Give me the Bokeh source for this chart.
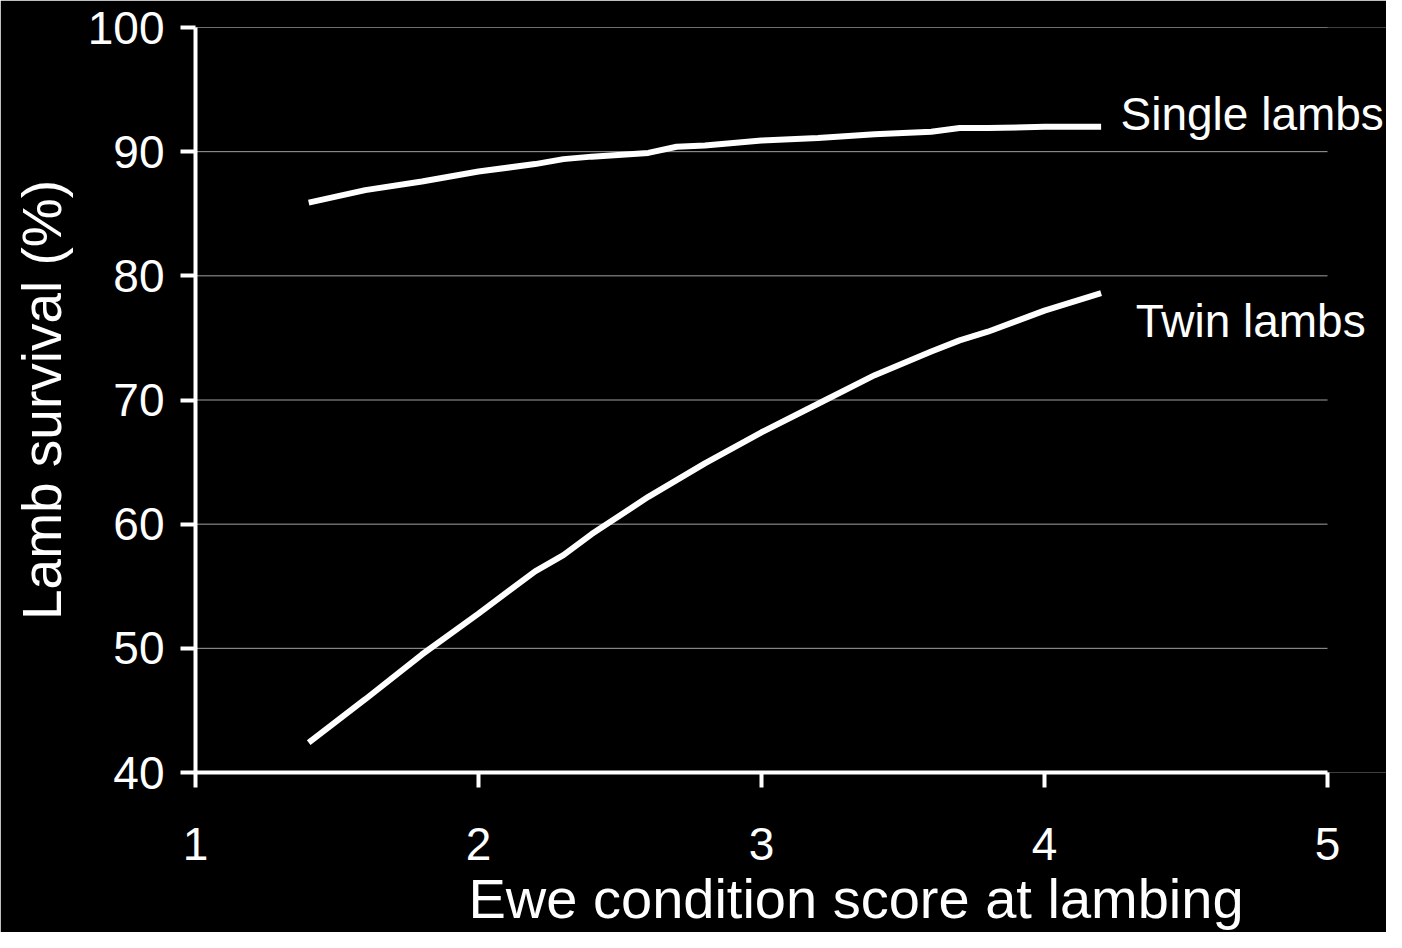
from bokeh.plotting import figure
from bokeh.models import Range1d, Label, FixedTicker, Title
from bokeh.embed import file_html
from bokeh.resources import INLINE

# ---- data ----
single_x = [1.4, 1.6, 1.8, 2.0, 2.2, 2.3, 2.4, 2.6, 2.7, 2.8, 3.0, 3.2, 3.4, 3.6, 3.7, 3.8, 4.0, 4.2]
single_y = [85.9, 86.9, 87.6, 88.4, 89.0, 89.4, 89.6, 89.9, 90.4, 90.5, 90.9, 91.1, 91.4, 91.6, 91.9, 91.9, 92.0, 92.0]
twin_x = [1.4, 1.6, 1.8, 2.0, 2.2, 2.3, 2.4, 2.6, 2.8, 3.0, 3.2, 3.4, 3.6, 3.7, 3.8, 4.0, 4.2]
twin_y = [42.4, 45.9, 49.5, 52.8, 56.2, 57.5, 59.2, 62.2, 64.9, 67.4, 69.7, 72.0, 73.9, 74.8, 75.5, 77.2, 78.6]
x_ticks = [1, 2, 3, 4, 5]
y_ticks = [40, 50, 60, 70, 80, 90, 100]
series_names = ["Single lambs", "Twin lambs"]
x_title = "Ewe condition score at lambing"
y_title = "Lamb survival (%)"

FONT = "Liberation Sans"
W, H = 1386, 932
LEFT, TOP, BOTTOM = 195, 27, 772
PX_PER_X = 283.0
x_end = x_ticks[0] + (W - LEFT) / PX_PER_X

p = figure(width=W, height=H, output_backend="svg", toolbar_location=None,
           x_range=Range1d(x_ticks[0], x_end), y_range=Range1d(y_ticks[0], y_ticks[-1]),
           min_border_left=LEFT, min_border_right=0, min_border_top=TOP,
           min_border_bottom=H - BOTTOM)
p.background_fill_color = "black"
p.border_fill_color = "black"
p.outline_line_color = None

p.xgrid.grid_line_color = None
p.ygrid.grid_line_color = None

# horizontal grid lines spanning only the x axis extent
p.segment(x0=[x_ticks[0]] * len(y_ticks), x1=[x_ticks[-1]] * len(y_ticks),
          y0=y_ticks, y1=y_ticks, line_color="#a0a0a0", line_width=1, level="underlay")

for ax in (p.xaxis[0], p.yaxis[0]):
    ax.axis_line_color = "white"
    ax.axis_line_width = 4
    ax.major_tick_line_color = "white"
    ax.major_tick_line_width = 4
    ax.major_tick_in = 0
    ax.major_tick_out = 15
    ax.minor_tick_line_color = None
    ax.major_label_text_color = "white"
    ax.major_label_text_font = FONT
    ax.major_label_text_font_size = "46px"

p.xaxis.ticker = FixedTicker(ticks=x_ticks)
p.yaxis.ticker = FixedTicker(ticks=y_ticks)
p.xaxis.bounds = (x_ticks[0], x_ticks[-1])
p.xaxis.major_label_standoff = 40
p.yaxis.major_label_standoff = 16

p.yaxis.axis_label = y_title
p.yaxis.axis_label_text_color = "white"
p.yaxis.axis_label_text_font = FONT
p.yaxis.axis_label_text_font_size = "55px"
p.yaxis.axis_label_text_font_style = "normal"
p.yaxis.axis_label_standoff = 12

p.line(single_x, single_y, line_color="white", line_width=6)
p.line(twin_x, twin_y, line_color="white", line_width=6)

p.add_layout(Label(x=4.2686, y=93.05, text=series_names[0], text_color="white",
                   text_font=FONT, text_font_size="46px", text_baseline="alphabetic"))
p.add_layout(Label(x=4.322, y=76.35, text=series_names[1], text_color="white",
                   text_font=FONT, text_font_size="46px", text_baseline="alphabetic"))

p.add_layout(Title(text=x_title, align="left", offset=273, standoff=4,
                   text_color="white", text_font=FONT, text_font_size="56px",
                   text_font_style="normal"), "below")

open("out.html", "w").write(file_html(p, INLINE))
